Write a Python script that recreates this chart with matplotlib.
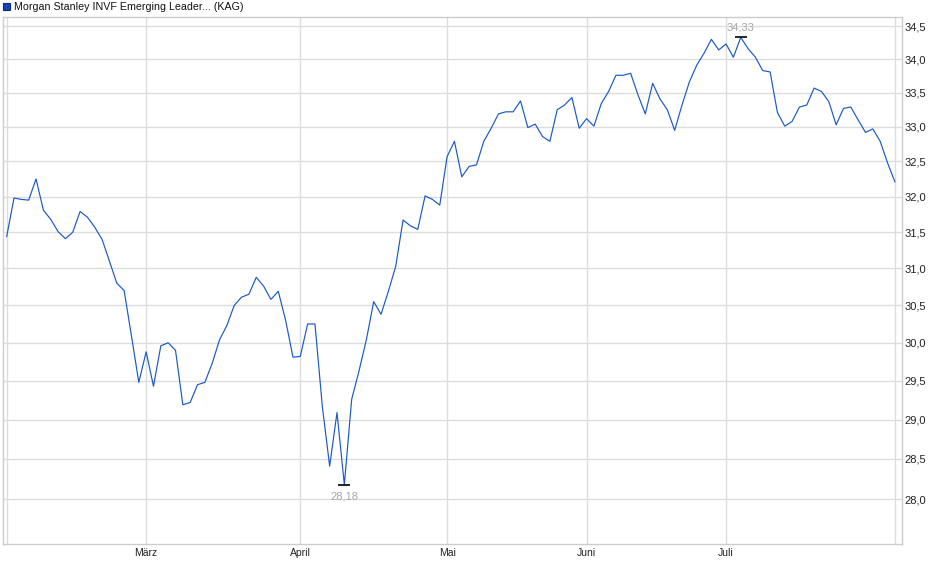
import matplotlib
matplotlib.use("Agg")
import matplotlib.pyplot as plt
import numpy as np
from matplotlib.ticker import FixedLocator, NullLocator, FuncFormatter

plt.rcParams["font.family"] = ["Liberation Sans", "DejaVu Sans"]

title = "Morgan Stanley INVF Emerging Leader... (KAG)"

# daily prices (trading days, Feb 4 - Aug 1)
prices = [
    31.44, 31.98, 31.96, 31.95, 32.25, 31.81, 31.68, 31.51, 31.41, 31.50,
    31.79, 31.71, 31.57, 31.40, 31.10, 30.80, 30.70, 30.09, 29.48, 29.88,
    29.43, 29.96, 30.00, 29.90, 29.19, 29.22, 29.45, 29.48, 29.73, 30.04,
    30.23, 30.50, 30.61, 30.65, 30.88, 30.76, 30.58, 30.69, 30.30, 29.81,
    29.82, 30.25, 30.25, 29.17, 28.41, 29.09, 28.18, 29.26, 29.63, 30.04,
    30.55, 30.38, 30.69, 31.03, 31.67, 31.59, 31.54, 32.01, 31.96, 31.88,
    32.57, 32.79, 32.28, 32.43, 32.45, 32.79, 32.98, 33.19, 33.22, 33.22,
    33.38, 32.99, 33.04, 32.86, 32.79, 33.25, 33.32, 33.43, 32.98, 33.12,
    33.01, 33.34, 33.52, 33.76, 33.76, 33.79, 33.47, 33.19, 33.64, 33.41,
    33.25, 32.95, 33.32, 33.66, 33.91, 34.09, 34.30, 34.14, 34.23, 34.03,
    34.33, 34.16, 34.03, 33.83, 33.81, 33.21, 33.01, 33.08, 33.29, 33.32,
    33.57, 33.52, 33.37, 33.03, 33.27, 33.29, 33.10, 32.92, 32.97, 32.79,
    32.48, 32.21,
]

month_labels = ["März", "April", "Mai", "Juni", "Juli"]
month_starts = [19, 40, 60, 79, 98]  # index of first trading day per month

y_ticks = [28.0, 28.5, 29.0, 29.5, 30.0, 30.5, 31.0, 31.5, 32.0, 32.5, 33.0, 33.5, 34.0, 34.5]

W, H = 940, 579
fig = plt.figure(figsize=(W / 100, H / 100), dpi=100)
ax = fig.add_axes([3 / W, 1 - 544 / H, (902 - 3) / W, (544 - 17) / H])

x = np.arange(len(prices))
ax.plot(x, prices, color="#1a58c6", lw=0.85, zorder=3)

ax.set_yscale("log")
ax.set_ylim(27.45, 34.64)
ax.set_xlim(-0.5, 121.97)

ax.yaxis.set_major_locator(FixedLocator(y_ticks))
ax.yaxis.set_minor_locator(NullLocator())
ax.yaxis.set_major_formatter(FuncFormatter(lambda v, _: f"{v:.1f}".replace(".", ",")))
ax.yaxis.tick_right()
ax.tick_params(axis="y", length=0, pad=1.5, labelsize=8, labelcolor="#222222")

ax.set_xticks(month_starts)
ax.set_xticklabels(month_labels)
ax.tick_params(axis="x", length=0, pad=3, labelsize=7.5, labelcolor="#222222")

ax.grid(True, color="#dcdcdc", lw=1.0, zorder=0)
ax.axvline(0, color="#dcdcdc", lw=1.0, zorder=0)
ax.axvline(len(prices) - 1, color="#dcdcdc", lw=1.0, zorder=0)
for s in ax.spines.values():
    s.set_color("#cccccc")
    s.set_linewidth(1.0)

# high / low markers
i_max = int(np.argmax(prices))
i_min = int(np.argmin(prices))
for i, off in [(i_max, 10), (i_min, -12)]:
    ax.plot(i, prices[i], marker="_", markersize=9, mew=1.2, color="black", zorder=4)
    ax.annotate(f"{prices[i]:.2f}".replace(".", ","), (i, prices[i]),
                xytext=(0, off), textcoords="offset pixels",
                ha="center", va="center", fontsize=8, color="#a8a8a8")

# title with legend square
fig.patches.append(plt.Rectangle((3 / W, 1 - 10 / H), 7 / W, 7 / H,
                                 transform=fig.transFigure, facecolor="#1446b4",
                                 edgecolor="#0c2c70", lw=0.8))
fig.text(14 / W, 1 - 6.5 / H, title, ha="left", va="center", fontsize=7.7, color="#111111")

fig.savefig("out.png", dpi=100)
